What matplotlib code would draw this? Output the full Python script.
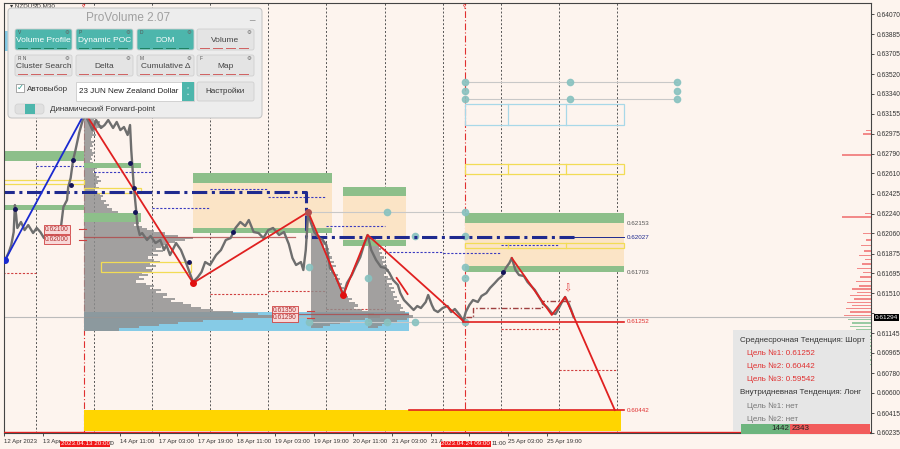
import matplotlib
matplotlib.use("Agg")
import matplotlib.pyplot as plt
from matplotlib.patches import Rectangle, FancyBboxPatch

plt.rcParams['font.family'] = ['Liberation Sans', 'DejaVu Sans']

# ---------------- data ----------------
# x = M30 bar number counted from 12 Apr 2023 00:00 (weekend skipped)
price_bar = [19, 22, 23, 26, 28, 30, 31, 32, 33, 36, 39, 42, 46, 49, 52, 55, 58, 60, 64, 66,
             69, 71, 74, 75, 77, 79, 81, 84, 87, 89, 92, 95, 98, 102, 105, 108, 112, 115, 118, 121,
             124, 126, 127, 129, 131, 132, 134, 136, 140, 143, 147, 151, 154, 156, 159, 164, 168, 172, 175, 178,
             182, 185, 188, 192, 197, 201, 205, 209, 213, 217, 221, 224, 228, 232, 236, 240, 244, 249, 253, 257,
             260, 263, 267, 269, 271, 273, 275, 278, 282, 285, 288, 291, 295, 298, 302, 305, 309, 312, 316, 319,
             322, 325, 329, 333, 337, 340, 343, 347, 349, 352, 356, 360, 363, 366, 370, 372, 375, 377, 380, 384,
             388, 391, 394, 398, 401, 403, 406, 409, 413, 416, 420, 423, 427, 430, 433, 436, 439, 441, 444, 447,
             451, 454, 457, 460, 464, 467, 470, 474, 477, 479, 482, 485, 488, 490, 492]
price_close = [0.61862, 0.61798, 0.61817, 0.61890, 0.61954, 0.62073, 0.62320, 0.62229, 0.62110, 0.62165,
               0.62091, 0.62137, 0.62064, 0.62110, 0.62073, 0.62018, 0.62091, 0.62027, 0.62073, 0.62037,
               0.62119, 0.62302, 0.62366, 0.62485, 0.62568, 0.62733, 0.62824, 0.62980, 0.63099, 0.63145,
               0.63081, 0.63007, 0.63099, 0.63026, 0.63053, 0.63099, 0.63026, 0.63081, 0.63007, 0.63035,
               0.62962, 0.63053, 0.62824, 0.62504, 0.62275, 0.62137, 0.62046, 0.62064, 0.62000, 0.62037,
               0.61972, 0.62000, 0.61908, 0.61954, 0.61862, 0.61972, 0.61908, 0.61798, 0.61707, 0.61615,
               0.61661, 0.61707, 0.61798, 0.61771, 0.61862, 0.61908, 0.62000, 0.62018, 0.62110, 0.62165,
               0.62128, 0.62183, 0.62073, 0.62064, 0.62018, 0.62091, 0.62110, 0.62046, 0.62073, 0.61963,
               0.61835, 0.61771, 0.61798, 0.61725, 0.61908, 0.62256, 0.62165, 0.62073, 0.62018, 0.62000,
               0.61954, 0.61743, 0.61679, 0.61606, 0.61496, 0.61606, 0.61679, 0.61753, 0.61844, 0.61954,
               0.62046, 0.61908, 0.61817, 0.61753, 0.61743, 0.61698, 0.61634, 0.61588, 0.61514, 0.61450,
               0.61405, 0.61359, 0.61395, 0.61377, 0.61432, 0.61496, 0.61405, 0.61359, 0.61340, 0.61377,
               0.61395, 0.61340, 0.61368, 0.61313, 0.61258, 0.61340, 0.61405, 0.61450, 0.61432, 0.61487,
               0.61514, 0.61560, 0.61606, 0.61643, 0.61670, 0.61743, 0.61789, 0.61835, 0.61725, 0.61679,
               0.61670, 0.61615, 0.61579, 0.61542, 0.61469, 0.61414, 0.61386, 0.61331, 0.61322, 0.61359,
               0.61423, 0.61478, 0.61414, 0.61359, 0.61294]
last_price = 0.61294

zz_bar = [89, 178, 273, 302, 322, 401]
zz_price = [0.63163, 0.61606, 0.62256, 0.61496, 0.62046, 0.61258]
zz_short_bar = [346, 355]
zz_short_price = [0.61652, 0.61505]
fc_bar = [441, 474, 485, 526]
fc_price = [0.61835, 0.61313, 0.61478, 0.60442]
up_bar = [23, 89]
up_price = [0.61817, 0.63172]
swing_dot_bar = [31, 77, 79, 126, 129, 130, 175, 211, 434]
swing_dot_price = [0.62284, 0.62504, 0.62733, 0.62705, 0.62476, 0.62256, 0.61798, 0.62073, 0.61707]

y_ticks = [0.64070, 0.63885, 0.63705, 0.63520, 0.63340, 0.63155, 0.62975, 0.62790, 0.62610, 0.62425,
           0.62240, 0.62060, 0.61875, 0.61695, 0.61510, 0.61330, 0.61145, 0.60965, 0.60780, 0.60600,
           0.60415, 0.60235]
x_tick_bars = [22, 54, 118, 150, 182, 214, 246, 278, 310, 342, 374, 406, 438, 470]
x_tick_labels = ["12 Apr 2023", "13 Apr", "14 Apr 11:00", "17 Apr 03:00", "17 Apr 19:00",
                 "18 Apr 11:00", "19 Apr 03:00", "19 Apr 19:00", "20 Apr 11:00", "21 Apr 03:00",
                 "21 A", "", "25 Apr 03:00", "25 Apr 19:00"]
x_tail_bars = [108, 424]
x_tail_labels = ["00", "11:00"]
day_starts = [48, 96, 144, 192, 240, 288, 336, 384, 432, 480, 528]
marked_bars = [88, 402]
marked_labels = ["2023.04.13 20:00", "2023.04.24 09:00"]

# zones: start bar, end bar, low, high
green_x0 = [0, 88, 0, 88, 178, 178, 302, 302, 402, 402]
green_x1 = [88, 135, 88, 135, 293, 293, 354, 354, 534, 534]
green_lo = [0.62723, 0.62659, 0.62275, 0.62165, 0.62522, 0.62064, 0.62403, 0.61945, 0.62153, 0.61703]
green_hi = [0.62815, 0.62705, 0.62320, 0.62247, 0.62614, 0.62110, 0.62485, 0.62000, 0.62247, 0.61765]
tan_x0 = [178, 302, 402]
tan_x1 = [293, 354, 534]
tan_lo = [0.62110, 0.62000, 0.61765]
tan_hi = [0.62522, 0.62403, 0.62153]
blue_x0 = [88, 0]
blue_x1 = [356, 25]
blue_lo = [0.61166, 0.63730]
blue_hi = [0.61340, 0.63914]
gold_zone = (88, 531, 0.60250, 0.60442)
yel_x0 = [0, 88, 102, 402, 402]
yel_x1 = [88, 135, 176, 534, 534]
yel_lo = [0.62513, 0.62430, 0.61707, 0.62604, 0.61927]
yel_hi = [0.62549, 0.62476, 0.61798, 0.62696, 0.61972]
cyan_box = (402, 534, 0.63053, 0.63245)
box_split = [438, 486]

# daily levels (dotted)
navy_day_x0 = [48, 96, 144, 192, 240, 288, 336, 384, 432]
navy_day_price = [0.62678, 0.62623, 0.62293, 0.62467, 0.62394, 0.62128, 0.61890, 0.61881, 0.61954]
red_day_x0 = [0, 192, 240, 288, 432, 480]
red_day_price = [0.61702, 0.61505, 0.61533, 0.61368, 0.61185, 0.60808]

# grey level lines with teal handles
handle_lines = [(273, 402, 0.62256), (274, 402, 0.61249), (402, 577, 0.63447), (402, 577, 0.63291)]
handle_bar = [338, 402, 361, 402, 274, 322, 402, 402, 274, 322, 338, 361, 402,
              402, 489, 577, 402, 577, 402, 489, 577]
handle_price = [0.62256, 0.62256, 0.62037, 0.62037, 0.61753, 0.61652, 0.61753, 0.61652,
                0.61249, 0.61249, 0.61249, 0.61249, 0.61249,
                0.63447, 0.63447, 0.63447, 0.63364, 0.63364, 0.63291, 0.63291, 0.63291]

# stop / entry steps at the end
step_bar = [403, 409, 409, 466, 466, 491]
step_price = [0.61295, 0.61295, 0.61377, 0.61377, 0.61441, 0.61441]

# volume profiles: top level, level step, volume per level (top to bottom)
vp_step = 0.0002
vp_start = [88, 275, 322]
vp_top = [0.6314, 0.6206, 0.6202]
vp1_volume = [8, 12, 10, 16, 14, 18, 13, 11, 9, 12,
              8, 7, 10, 8, 9, 6, 8, 11, 9, 7,
              8, 6, 9, 10, 13, 11, 9, 12, 15, 13,
              17, 14, 12, 15, 11, 13, 16, 19, 17, 22,
              20, 25, 23, 28, 34, 40, 46, 52, 48, 55,
              50, 58, 63, 70, 82, 95, 110, 102, 92, 85,
              78, 72, 80, 68, 74, 64, 70, 76, 66, 72,
              62, 68, 58, 64, 55, 60, 52, 62, 70, 66,
              78, 72, 84, 80, 92, 88, 100, 108, 118, 130,
              150, 175, 200, 160, 120, 95, 75, 55, 35]
vp2_volume = [6, 9, 12, 10, 14, 16, 13, 18, 15, 20,
              17, 22, 19, 24, 21, 26, 23, 20, 25, 28,
              24, 30, 27, 32, 29, 34, 31, 36, 33, 38,
              42, 39, 45, 48, 44, 52, 58, 64, 70, 55,
              40, 30, 20, 12]
vp3_volume = [5, 8, 10, 9, 12, 14, 11, 15, 13, 17,
              15, 19, 16, 20, 18, 22, 19, 17, 21, 24,
              20, 25, 22, 27, 24, 28, 26, 30, 27, 32,
              30, 34, 36, 33, 38, 42, 46, 40, 30, 22,
              15, 10]
poc_lines = [(88, 262, 0.62030), (244, 355, 0.61320)]

# DOM at the right edge
dom_ask_price = [0.6300, 0.6297, 0.6278, 0.6224, 0.6221, 0.6206, 0.6200, 0.6195, 0.6190, 0.6186,
                 0.6182, 0.6178, 0.6174, 0.6170, 0.6166, 0.6162, 0.6158, 0.6155, 0.6152, 0.6149,
                 0.6146, 0.6143, 0.6140, 0.6137, 0.6134, 0.6131]
dom_ask_vol = [5, 8, 30, 6, 30, 8, 5, 10, 7, 12, 6, 9, 14, 8, 11, 16, 12, 20, 14, 22, 18, 25, 20, 26, 22, 28]
dom_bid_price = [0.6127, 0.6124, 0.6121, 0.6118, 0.6115, 0.6112, 0.6109, 0.6106, 0.6103, 0.6100,
                 0.6097, 0.6094, 0.6090, 0.6086]
dom_bid_vol = [24, 20, 22, 16, 18, 12, 14, 9, 10, 6, 7, 4, 5, 3]
bid_total, ask_total = 1442, 2343

level_prices = [0.62153, 0.62027, 0.61703, 0.61252, 0.60442]
mid_targets = [0.61252, 0.60442, 0.59542]
tag_bar = [56, 56, 244, 244]
tag_price = [0.62100, 0.62000, 0.61350, 0.61290]

# ---------------- figure ----------------
W, H = 900, 449
BG = '#FDF4EE'
GREEN = '#8DBF8A'
TAN = '#FBE4C6'
NAVY = '#1F2A8F'
RED = '#E02020'

fig = plt.figure(figsize=(9, 4.49), dpi=100, facecolor=BG)
ax = fig.add_axes([4 / W, 1 - 433 / H, 867 / W, 430 / H])
ax.set_facecolor(BG)
ax.set_xlim(22.4, 737.4)
ax.set_ylim(0.60232, 0.64171)

for b in day_starts:
    ax.axvline(b, color='#555555', ls=(0, (2, 2)), lw=0.7, zorder=0.5)
for b in marked_bars:
    ax.axvline(b, color='#E03030', ls=(0, (6, 2, 1, 2)), lw=0.8, zorder=0.6)
    ax.text(b, 0.6413, "ʕ", fontsize=5, color='#E03030', ha='center', va='center', zorder=6,
            family=['DejaVu Sans'])

for x0, x1, lo, hi in zip(tan_x0, tan_x1, tan_lo, tan_hi):
    ax.add_patch(Rectangle((x0, lo), x1 - x0, hi - lo, fc=TAN, ec='none', zorder=0.8))
for x0, x1, lo, hi in zip(blue_x0, blue_x1, blue_lo, blue_hi):
    ax.add_patch(Rectangle((x0, lo), x1 - x0, hi - lo, fc='#86CBE6', ec='none', zorder=0.8))
ax.add_patch(Rectangle((gold_zone[0], gold_zone[2]), gold_zone[1] - gold_zone[0],
                       gold_zone[3] - gold_zone[2], fc='#FFD500', ec='none', zorder=0.8))

# daily dotted levels
for x0, p in zip(navy_day_x0, navy_day_price):
    ax.plot([x0, x0 + 48], [p, p], color='#3A3AC0', lw=0.8, ls=(0, (2, 1.5)), zorder=1.0)
for x0, p in zip(red_day_x0, red_day_price):
    ax.plot([x0, x0 + 48], [p, p], color='#D04040', lw=0.8, ls=(0, (2, 1.5)), zorder=1.0)

# volume profiles
k = 0.82
for top, vol, st in zip(vp_top, [vp1_volume, vp2_volume, vp3_volume], vp_start):
    lv = [top - i * vp_step for i in range(len(vol))]
    ax.barh(lv, [v * k for v in vol], left=st, height=vp_step, color='#8E8E8E', alpha=0.82,
            lw=0, zorder=1.5)
for x0, x1, p in poc_lines:
    ax.plot([x0, x1], [p, p], color='#B04848', lw=0.9, alpha=0.8, zorder=1.6)

for x0, x1, lo, hi in zip(green_x0, green_x1, green_lo, green_hi):
    ax.add_patch(Rectangle((x0, lo), x1 - x0, hi - lo, fc=GREEN, ec='none', zorder=1.8))
for x0, x1, lo, hi in zip(yel_x0, yel_x1, yel_lo, yel_hi):
    ax.add_patch(Rectangle((x0, lo), x1 - x0, hi - lo, fc='none', ec='#F2DC55', lw=0.9, zorder=1.9))
ax.add_patch(Rectangle((cyan_box[0], cyan_box[2]), cyan_box[1] - cyan_box[0],
                       cyan_box[3] - cyan_box[2], fc='none', ec='#A8D8E8', lw=0.9, zorder=1.9))
for b in box_split:
    ax.plot([b, b], [yel_lo[3], yel_hi[3]], color='#F2DC55', lw=0.9, zorder=1.9)
    ax.plot([b, b], [yel_lo[4], yel_hi[4]], color='#F2DC55', lw=0.9, zorder=1.9)
    ax.plot([b, b], [cyan_box[2], cyan_box[3]], color='#A8D8E8', lw=0.9, zorder=1.9)

# grey handle lines
for x0, x1, p in handle_lines:
    ax.plot([x0, x1], [p, p], color='#C8C8C8', lw=0.8, zorder=1.7)
ax.plot(handle_bar, handle_price, 'o', color='#88C2C0', ms=4.5, alpha=0.9, zorder=2.2, lw=0)

# navy dash-dot level
ax.plot([0, 271, 271, 492], [0.62440, 0.62440, 0.62027, 0.62027], color=NAVY, lw=2.2,
        ls=(0, (5, 1.5, 1, 1.5)), zorder=2.5)
ax.plot([492, 534], [0.62027, 0.62027], color=NAVY, lw=0.7, zorder=2.5)

# current price line
ax.axhline(last_price, color='#BBBBBB', lw=0.8, zorder=1.2)

# price
ax.plot(price_bar, price_close, color='#6E6E6E', lw=1.7, zorder=3)
ax.plot(step_bar, step_price, color='#A04040', lw=1.0, ls=(0, (4, 1.5, 1, 1.5)), zorder=3.2)

# zigzags
ax.plot(up_bar, up_price, color='#1A2AD0', lw=1.3, zorder=4)
ax.plot(zz_bar, zz_price, color=RED, lw=1.3, zorder=4)
ax.plot(zz_short_bar, zz_short_price, color=RED, lw=1.3, zorder=4)
ax.plot(fc_bar, fc_price, color=RED, lw=1.3, zorder=4)
ax.plot(swing_dot_bar, swing_dot_price, 'o', color='#14145A', ms=2.5, zorder=4.5, lw=0)
ax.plot([up_bar[0]], [up_price[0]], 'o', color='#1A2AD0', ms=4, zorder=5)
ax.plot([zz_bar[1], zz_bar[3]], [zz_price[1], zz_price[3]], 'o', color='#E01010', ms=4, zorder=5)
ax.plot([zz_bar[2]], [zz_price[2]], 'o', color='#B05050', ms=4, zorder=5)
ax.text(487, 0.61560, "⇩", fontsize=7, color='#E04040', ha='center', va='center', zorder=5)

# target lines
ax.plot([401, 534], [level_prices[3], level_prices[3]], color=RED, lw=1.2, zorder=4)
ax.plot([356, 534], [level_prices[4], level_prices[4]], color=RED, lw=1.2, zorder=4)
ax.axhline(0.60240, color=RED, lw=1.0, zorder=4)

for p, c in zip(level_prices, ['#555555', NAVY, '#555555', '#E03030', '#E03030']):
    ax.text(536, p, f"{p:.5f}", fontsize=4.5, color=c, va='center', ha='left', zorder=6)

# axes styling
ax.yaxis.tick_right()
ax.set_yticks(y_ticks)
ax.set_yticklabels(["" if abs(v - 0.61330) < 1e-6 else f"{v:.5f}" for v in y_ticks])
ax.tick_params(axis='y', labelsize=4.8, length=2.5, width=0.6, colors='#333333', pad=1.5)
ax.set_xticks(x_tick_bars)
ax.set_xticklabels(x_tick_labels)
for t in ax.get_xticklabels():
    t.set_ha('left')
ax.tick_params(axis='x', labelsize=4.4, length=2.5, width=0.6, colors='#333333', pad=2)
for b, lab in zip(x_tail_bars, x_tail_labels):
    ax.text(b, -0.025, lab, transform=ax.get_xaxis_transform(), fontsize=4.4, color='#333333',
            ha='left', va='center')
for s in ax.spines.values():
    s.set_color('#444444')
    s.set_linewidth(0.8)

for b, lab in zip(marked_bars, marked_labels):
    ax.text(b + 1, -0.025, lab, transform=ax.get_xaxis_transform(), fontsize=4.5, color='white',
            ha='center', va='center', zorder=7,
            bbox=dict(boxstyle='square,pad=0.1', fc='#F01818', ec='none'))
ax.text(1.004, last_price, f"{last_price:.5f}", transform=ax.get_yaxis_transform(), fontsize=4.6,
        color='white', ha='left', va='center', zorder=7,
        bbox=dict(boxstyle='square,pad=0.15', fc='black', ec='none'))

# price tags
for b, p in zip(tag_bar, tag_price):
    ax.plot([b + 28, b + 34], [p, p], color='#D04040', lw=0.8, zorder=6)
    ax.text(b, p, f"{p:.5f}", fontsize=4.8, color='#B03030', ha='left', va='center', zorder=6,
            bbox=dict(boxstyle='square,pad=0.15', fc='#F8D8D8', ec='#D04040', lw=0.6))

# DOM histogram
hx = fig.add_axes([840 / W, 1 - 433 / H, 31 / W, 430 / H], sharey=ax)
hx.set_xlim(32, 0)
hx.axis('off')
hx.patch.set_alpha(0)
hx.barh(dom_ask_price, dom_ask_vol, height=0.00012, color='#F07070', alpha=0.8)
hx.barh(dom_bid_price, dom_bid_vol, height=0.00012, color='#80C090', alpha=0.8)

# overlay in pixels for the tool panels
ov = fig.add_axes([0, 0, 1, 1])
ov.set_xlim(0, W)
ov.set_ylim(H, 0)
ov.axis('off')
ov.patch.set_alpha(0)

ov.text(10, 5.5, "▾ NZDUSD,M30", fontsize=4.5, color='#333333', va='center', ha='left')

ov.add_patch(FancyBboxPatch((8, 8), 254, 110, boxstyle='round,pad=0,rounding_size=4',
                            fc='#EDEDED', ec='#C8C8C8', lw=0.8, zorder=10))
ov.text(128, 18, "ProVolume 2.07", fontsize=8.5, color='#A0A0A0', ha='center', va='center', zorder=11)
ov.text(252, 16, "_", fontsize=7, color='#909090', ha='center', va='center', zorder=11)

TEAL = '#4DB6AC'
buttons = [
    (15, 29, "Volume Profile", True, "V"), (76, 29, "Dynamic POC", True, "P"),
    (137, 29, "DOM", True, "D"), (197, 29, "Volume", False, ""),
    (15, 55, "Cluster Search", False, "R N"), (76, 55, "Delta", False, ""),
    (137, 55, "Cumulative Δ", False, "M"), (197, 55, "Map", False, "F"),
]
for bx, by, lab, on, key in buttons:
    ov.add_patch(FancyBboxPatch((bx, by), 57, 21, boxstyle='round,pad=0,rounding_size=2',
                                fc=TEAL if on else '#E4E4E4', ec='#D0D0D0', lw=0.6, zorder=11))
    ov.text(bx + 28.5, by + 12, lab, fontsize=6, color='white' if on else '#444444',
            ha='center', va='center', zorder=12)
    ov.text(bx + 52, by + 4, "⚙", fontsize=4, color='#666666', ha='center', va='center', zorder=12)
    if key:
        ov.text(bx + 3, by + 4, key, fontsize=3.5, color='#555555', ha='left', va='center', zorder=12)
    for i in range(4):
        ov.plot([bx + 3 + i * 13, bx + 12 + i * 13], [by + 19, by + 19],
                color='#1E8060' if on else '#D06060', lw=0.7, zorder=12)

ov.add_patch(Rectangle((16, 84), 8, 8, fc='white', ec='#999999', lw=0.6, zorder=11))
ov.text(17, 88.5, "✓", fontsize=6, color='#2A9D8F', ha='left', va='center', zorder=12)
ov.text(27, 89, "Автовыбор", fontsize=5.8, color='#333333', ha='left', va='center', zorder=12)
ov.add_patch(Rectangle((76, 82), 118, 19, fc='white', ec='#CCCCCC', lw=0.6, zorder=11))
ov.text(79, 91.5, "23 JUN New Zealand Dollar", fontsize=5.8, color='#222222', ha='left',
        va='center', zorder=12)
ov.add_patch(Rectangle((182, 82), 12, 19, fc=TEAL, ec='none', zorder=12))
ov.text(188, 91.5, "⌃\n⌄", fontsize=3.5, color='white', ha='center', va='center', zorder=13,
        linespacing=0.8)
ov.add_patch(FancyBboxPatch((197, 82), 57, 19, boxstyle='round,pad=0,rounding_size=2',
                            fc='#E4E4E4', ec='#D0D0D0', lw=0.6, zorder=11))
ov.text(225.5, 91.5, "Настройки", fontsize=5.8, color='#333333', ha='center', va='center', zorder=12)
ov.add_patch(FancyBboxPatch((15, 104), 29, 10, boxstyle='round,pad=0,rounding_size=3',
                            fc='#E0E0E0', ec='#D0D0D0', lw=0.5, zorder=11))
ov.add_patch(Rectangle((25, 104), 10, 10, fc=TEAL, ec='none', zorder=12))
ov.text(50, 109, "Динамический Forward-point", fontsize=5.8, color='#333333', ha='left',
        va='center', zorder=12)

# trend info box
ov.add_patch(Rectangle((733, 330), 137, 101, fc='#E6E6E6', ec='none', zorder=10))
ov.text(740, 340, "Среднесрочная Тенденция: Шорт", fontsize=5.8, color='#333333', va='center', zorder=11)
for i, t in enumerate(mid_targets):
    ov.text(747, 353 + 13.3 * i, f"Цель №{i + 1}: {t:.5f}", fontsize=5.8, color='#E03030',
            va='center', zorder=11)
ov.text(740, 393, "Внутридневная Тенденция: Лонг", fontsize=5.8, color='#333333', va='center', zorder=11)
ov.text(747, 406, "Цель №1: нет", fontsize=5.8, color='#777777', va='center', zorder=11)
ov.text(747, 419, "Цель №2: нет", fontsize=5.8, color='#777777', va='center', zorder=11)
tot = bid_total + ask_total
wb = 129 * bid_total / tot
ov.add_patch(Rectangle((741, 424), wb, 10, fc='#6DB57E', ec='none', zorder=11))
ov.add_patch(Rectangle((741 + wb, 424), 129 - wb, 10, fc='#F25C5C', ec='none', zorder=11))
ov.text(741 + wb - 1, 429, str(bid_total), fontsize=5.8, color='#222222', ha='right', va='center', zorder=12)
ov.text(741 + wb + 1, 429, str(ask_total), fontsize=5.8, color='#222222', ha='left', va='center', zorder=12)

fig.savefig("out.png", dpi=100, facecolor=BG)
